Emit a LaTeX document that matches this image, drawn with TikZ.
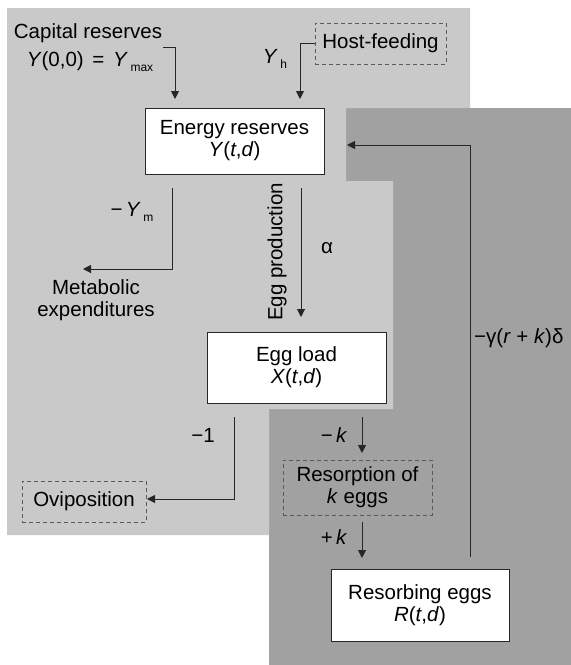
\documentclass[tikz,border=0pt]{standalone}
\usepackage{fontspec}
\setmainfont{Liberation Sans}
\usetikzlibrary{arrows.meta}
\definecolor{lightbg}{gray}{0.79}
\definecolor{darkbg}{gray}{0.63}
\newcommand\lsub[1]{\hspace{2.5pt}\raisebox{-5pt}{\fontsize{12}{12}\selectfont #1}}
\begin{document}
\begin{tikzpicture}[x=1pt,y=-1pt,
  font=\fontsize{20.5}{22}\selectfont,
  box/.style={draw=black!85, fill=white, line width=0.9pt, inner sep=0pt, align=center},
  dbox/.style={draw=black!65, dash pattern=on 4pt off 3pt, line width=0.9pt, inner sep=0pt, align=center},
  arr/.style={-{Triangle[length=8pt,width=8pt]}, line width=1pt, draw=black!85},
  lbl/.style={inner sep=0pt, align=center}]
\useasboundingbox (0,0) rectangle (571,665);
% backgrounds
\fill[darkbg] (269,108) rectangle (571,665);
\fill[lightbg] (7,8) -- (470,8) -- (470,108) -- (346,108) -- (346,181) -- (393,181)
  -- (393,409) -- (269,409) -- (269,535) -- (7,535) -- cycle;
% boxes
\node[box, minimum width=179pt, minimum height=66pt] (energy) at (234.5,141) {Energy reserves\\\textit{Y}(\textit{t},\textit{d})};
\node[box, minimum width=179pt, minimum height=71pt] (eggload) at (296.5,367.5) {Egg load\\\textit{X}(\textit{t},\textit{d})};
\node[box, minimum width=178pt, minimum height=72pt] (resorbing) at (420,605) {Resorbing eggs\\\textit{R}(\textit{t},\textit{d})};
\node[dbox, minimum width=149pt, minimum height=55pt] (resorption) at (357.5,487.5) {Resorption of\\\textit{k} eggs};
\node[dbox, minimum width=124pt, minimum height=41pt] (ovip) at (84,501.5) {Oviposition};
\node[dbox, minimum width=131pt, minimum height=41pt] (host) at (380.5,43.5) {Host-feeding};
% labels
\node[lbl] (capital) at (88,48) {Capital reserves\\[6pt]\hspace{4pt}\textit{Y}(0,0)\hspace{3pt} = \hspace{3pt}\textit{Y}\lsub{max}};
\node[lbl] (yh) at (275,59) {\textit{Y}\lsub{h}};
\node[lbl] (ym) at (132,212) {−\,\textit{Y}\lsub{m}};
\node[lbl] (metab) at (96,300) {Metabolic\\expenditures};
\node[lbl, rotate=90] (eggprod) at (277,252) {Egg production};
\node[lbl] (alpha) at (327,248) {α};
\node[lbl] (minus1) at (203,435) {−1};
\node[lbl] (minusk) at (334,435) {−\,\textit{k}};
\node[lbl] (plusk) at (334,537) {+\,\textit{k}};
\node[lbl, anchor=west] (gamma) at (474,338) {−γ(\textit{r} + \textit{k})δ};
% coordinates
\coordinate (capS) at (163,47);
\coordinate (capE) at (175,99);
\coordinate (hostE) at (300,99);
\coordinate (ymS) at (172,188);
\coordinate (ymE) at (83,269);
\coordinate (epS) at (301,188);
\coordinate (epE) at (301,317);
\coordinate (m1S) at (234,417);
\coordinate (m1E) at (147,499);
\coordinate (mkS) at (362,417);
\coordinate (mkE) at (362,453);
\coordinate (pkS) at (362,522);
\coordinate (pkE) at (362,558);
\coordinate (fbS) at (470,557);
\coordinate (fbE) at (347,145);
% connectors
\draw[arr] (capS) -| (capE);
\draw[arr] (host.west) -| (hostE);
\draw[arr] (ymS) |- (ymE);
\draw[arr] (epS) -- (epE);
\draw[arr] (m1S) |- (m1E);
\draw[arr] (mkS) -- (mkE);
\draw[arr] (pkS) -- (pkE);
\draw[arr] (fbS) |- (fbE);
\end{tikzpicture}
\end{document}
